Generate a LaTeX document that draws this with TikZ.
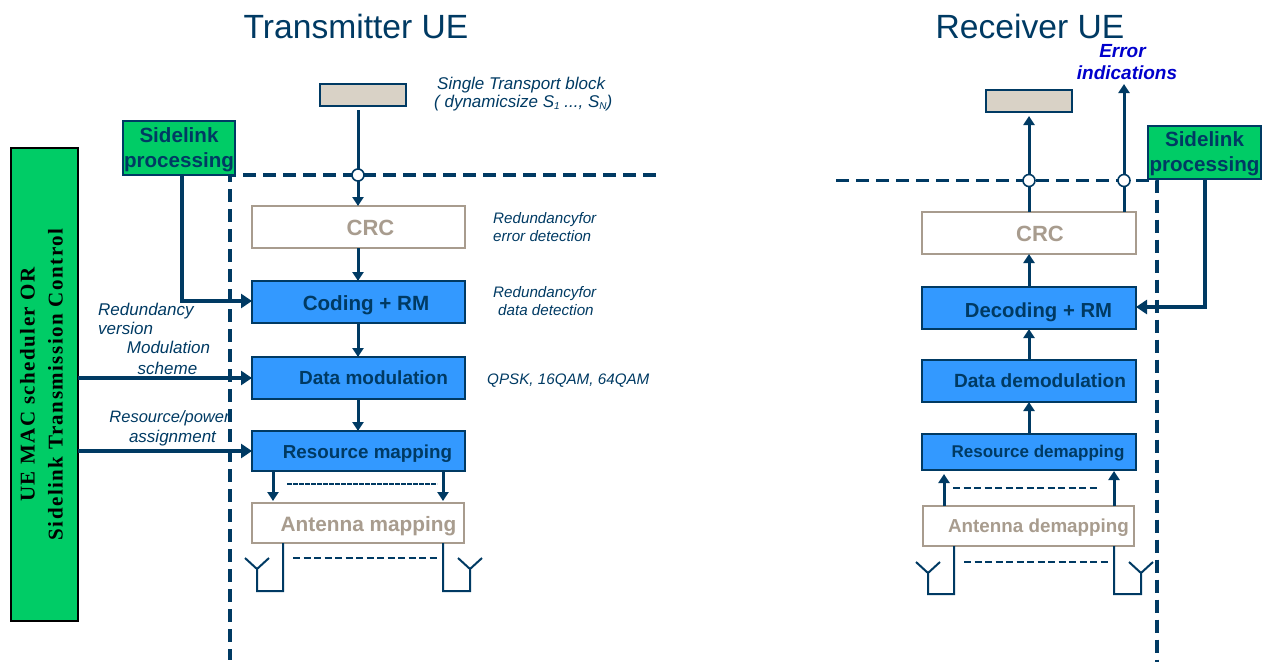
\documentclass[tikz,border=0pt]{standalone}
\usepackage{fontspec}
\setmainfont{Liberation Sans}
\newfontfamily\serifb[LetterSpace=7]{Liberation Serif}
\usetikzlibrary{arrows.meta,calc}
\definecolor{navy}{HTML}{003A63}
\definecolor{bluefill}{HTML}{3399FF}
\definecolor{greenfill}{HTML}{00CC66}
\definecolor{beige}{HTML}{D9D2C6}
\definecolor{greytxt}{HTML}{A89C8E}
\definecolor{errblue}{HTML}{0000CC}
\newcommand{\fsz}[1]{\fontsize{#1}{#1}\selectfont}
\newcommand{\bx}[3]{\hspace{#1pt}\raisebox{-#2pt}[\height][\depth]{#3}}
\tikzset{
  anybox/.style={draw,line width=1.8pt,inner sep=0pt,outer sep=0pt,align=center},
  bluebox/.style={anybox,draw=navy,fill=bluefill,text=navy,font=\fsz{20}\bfseries},
  greybox/.style={anybox,draw=greytxt,fill=white,text=greytxt,font=\fsz{21}\bfseries},
  tbbox/.style={anybox,draw=navy,fill=beige,minimum width=86pt,minimum height=22pt},
  sidebox/.style={anybox,draw=navy,fill=greenfill,text=navy,font=\fsz{20.6}\bfseries,minimum width=112pt,minimum height=54pt},
  note/.style={text=navy,font=\fsz{17}\itshape,align=left,inner sep=0pt},
  smallnote/.style={note,font=\fsz{15.2}\itshape},
  title/.style={text=navy,font=\fsz{33.6},inner sep=0pt},
  flow/.style={navy,line width=3pt,-{Triangle[length=9pt,width=11pt]}},
  flowthick/.style={navy,line width=4.4pt,-{Triangle[length=11pt,width=14pt]}},
  flowplain/.style={navy,line width=3pt},
  border/.style={navy,line width=3.6pt,dash pattern=on 13pt off 7pt},
  sparse/.style={navy,line width=2.2pt,dash pattern=on 7pt off 3.5pt},
  ant/.style={navy,line width=2pt},
  tap/.style={circle,draw=navy,fill=white,line width=1.6pt,minimum size=12pt,inner sep=0pt,outer sep=0pt}
}
\begin{document}
\begin{tikzpicture}[x=1pt,y=-1pt]
\useasboundingbox (0,0) rectangle (1262,662);
% titles
\node[title] (ttx) at (356,26.5) {Transmitter UE};
\node[title] (trx) at (1030,26.5) {Receiver UE};
% borders
\coordinate (txc) at (230,175);
\coordinate (txe) at (656,175);
\coordinate (txb) at (230,660);
\coordinate (rxa) at (836,180.5);
\coordinate (rxc) at (1157,180.5);
\coordinate (rxb) at (1157,662);
\draw[border] (txe) -- (txc) -- (txb);
\draw[border] (rxa) -- (rxc) -- (rxb);
% control block
\node[anybox,draw=black,fill=greenfill,text=black,rotate=90,minimum width=473pt,minimum height=67pt,
      font=\serifb\bfseries\fsz{21}] (mac) at (44.5,384.5)
  {\raisebox{3pt}{\begin{tabular}{@{}c@{}}UE MAC scheduler OR\\[7pt]Sidelink Transmission Control\end{tabular}}};
% transmitter
\node[tbbox] (ttb) at (363,95) {};
\node[tap] (ttap) at (358,175) {};
\node[sidebox] (tside) at (179,148) {\bx{0}{2}{Sidelink}\\[5pt]\bx{0}{1}{processing}};
\node[greybox,font=\fsz{22}\bfseries,minimum width=213pt,minimum height=42pt] (tcrc) at (358.5,227) {\bx{24}{1}{CRC}};
\node[bluebox,font=\fsz{20.6}\bfseries,minimum width=213pt,minimum height=42pt] (tcod) at (358.5,302) {\bx{15}{3}{Coding + RM}};
\node[bluebox,minimum width=213pt,minimum height=42pt,font=\fsz{19}\bfseries] (tmod) at (358.5,378) {\bx{30}{0}{Data modulation}};
\node[bluebox,minimum width=213pt,minimum height=40pt,font=\fsz{18.8}\bfseries] (tres) at (358.5,451) {\bx{18}{3}{Resource mapping}};
\node[greybox,font=\fsz{20.8}\bfseries,minimum width=212pt,minimum height=40pt] (tant) at (358,523) {\bx{21}{3}{Antenna mapping}};
% transmitter notes
\node[note,anchor=west] (n1) at (437,85.5) {Single Transport block};
\node[note,anchor=west] (n2) at (434,103) {( dynamicsize \textit{S}\raisebox{-2pt}{\fsz{10}1} ..., \textit{S}\raisebox{-2pt}{\fsz{10}N})};
\node[smallnote,anchor=west] (n3) at (493,219.5) {Redundancyfor};
\node[smallnote,anchor=west] (n4) at (493,236) {error detection};
\node[smallnote,anchor=west] (n5) at (493,293.5) {Redundancyfor};
\node[smallnote,anchor=west] (n6) at (498,310) {data detection};
\node[smallnote,anchor=west] (n7) at (487,381) {QPSK, 16QAM, 64QAM};
\node[note,anchor=west] (n8) at (98,311) {Redundancy};
\node[note,anchor=west] (n9) at (98,328) {version};
\node[note,anchor=center] (n10) at (168.5,347) {Modulation};
\node[note,anchor=center] (n11) at (167.5,368) {scheme};
\node[note,anchor=center,font=\fsz{16.5}\itshape] (n12) at (169.5,418) {Resource/power};
\node[note,anchor=center] (n13) at (172.5,438) {assignment};
% transmitter connectors
\coordinate (tsx) at (182,301);
\coordinate (ta1) at (273,490);
\coordinate (ta2) at (443,490);
\coordinate (tt) at (358,110);
\draw[flowplain] (tt) -- (ttap);
\draw[flow] (ttap) -- (tcrc.north -| ttap);
\draw[flow] (tcrc.south -| ttap) -- (tcod.north -| ttap);
\draw[flow] (tcod.south -| ttap) -- (tmod.north -| ttap);
\draw[flow] (tmod.south -| ttap) -- (tres.north -| ttap);
\draw[flow] (tres.south -| ta1) -- ($(tant.north -| ta1)+(0,-2)$);
\draw[flow] (tres.south -| ta2) -- ($(tant.north -| ta2)+(0,-2)$);
\draw[flowthick,rounded corners=0pt] (tside.south -| tsx) -- (tsx) -- (tsx -| tcod.west);
\draw[flowthick] (mac.south |- tmod.west) -- (tmod.west);
\draw[flowthick] (mac.south |- tres.west) -- (tres.west);
\coordinate (td1a) at (287,484);
\coordinate (td1b) at (437,484);
\coordinate (td2a) at (293,558);
\coordinate (td2b) at (438,558);
\draw[navy,line width=2pt,dash pattern=on 5pt off 1pt] (td1a) -- (td1b);
\draw[sparse] (td2a) -- (td2b);
% transmitter antennas
\coordinate (tl1) at (283,591);
\coordinate (tl2) at (257,591);
\coordinate (tl3) at (257,569);
\coordinate (tr1) at (443,591);
\coordinate (tr2) at (470,591);
\coordinate (tr3) at (470,569);
\draw[ant] (tant.south -| tl1) -- (tl1) -- (tl2) -- (tl3) -- ++(-12,-11) (tl3) -- ++(12,-11);
\draw[ant] (tant.south -| tr1) -- (tr1) -- (tr2) -- (tr3) -- ++(-12,-11) (tr3) -- ++(12,-11);
% receiver
\node[tbbox] (rtb) at (1029,101) {};
\node[tap] (rtap1) at (1029,180.5) {};
\node[tap] (rtap2) at (1124,180.5) {};
\node[sidebox,minimum width=113pt,minimum height=53pt] (rside) at (1204.5,152.5) {\bx{0}{2}{Sidelink}\\[5pt]\bx{0}{1}{processing}};
\node[greybox,font=\fsz{22}\bfseries,minimum width=214pt,minimum height=42pt] (rcrc) at (1029,233) {\bx{22}{1}{CRC}};
\node[bluebox,font=\fsz{20.3}\bfseries,minimum width=214pt,minimum height=42pt] (rdec) at (1029,308) {\bx{19}{4}{Decoding + RM}};
\node[bluebox,minimum width=214pt,minimum height=42pt,font=\fsz{19.1}\bfseries] (rmod) at (1029,381) {\bx{22}{0}{Data demodulation}};
\node[bluebox,minimum width=214pt,minimum height=36pt,font=\fsz{17}\bfseries] (rres) at (1029,452) {\bx{18}{1}{Resource demapping}};
\node[greybox,minimum width=211pt,minimum height=40pt,font=\fsz{18.8}\bfseries] (rant) at (1028.5,526) {\bx{20}{2}{Antenna demapping}};
\node[note,anchor=center,text=errblue,font=\fsz{19}\bfseries\itshape] (e1) at (1122.5,51) {Error};
\node[note,anchor=center,text=errblue,font=\fsz{19}\bfseries\itshape] (e2) at (1127,73) {indications};
% receiver connectors
\coordinate (rt1) at (1029,116);
\coordinate (rt2) at (1124,84);
\coordinate (rr1) at (944,474);
\coordinate (rr2) at (1114,471);
\coordinate (rsx) at (1205,307);
\draw[flowplain] (rcrc.north -| rtap1) -- (rtap1);
\draw[flow] (rtap1) -- (rt1);
\draw[flowplain] (rcrc.north -| rtap2) -- (rtap2);
\draw[flow] (rtap2) -- (rt2);
\draw[flow] (rdec.north -| rtap1) -- (rcrc.south -| rtap1);
\draw[flow] (rmod.north -| rtap1) -- (rdec.south -| rtap1);
\draw[flow] (rres.north -| rtap1) -- (rmod.south -| rtap1);
\draw[flow] (rant.north -| rr1) -- (rr1);
\draw[flow] (rant.north -| rr2) -- (rr2);
\draw[flowthick] (rside.south -| rsx) -- (rsx) -- (rsx -| rdec.east);
\coordinate (rd1a) at (953,488);
\coordinate (rd1b) at (1098,488);
\coordinate (rd2a) at (964,562);
\coordinate (rd2b) at (1109,562);
\draw[sparse] (rd1a) -- (rd1b);
\draw[sparse] (rd2a) -- (rd2b);
% receiver antennas
\coordinate (rl1) at (954,594);
\coordinate (rl2) at (928,594);
\coordinate (rl3) at (928,573);
\coordinate (rn1) at (1114,594);
\coordinate (rn2) at (1141,594);
\coordinate (rn3) at (1141,573);
\draw[ant] (rant.south -| rl1) -- (rl1) -- (rl2) -- (rl3) -- ++(-12,-11) (rl3) -- ++(12,-11);
\draw[ant] (rant.south -| rn1) -- (rn1) -- (rn2) -- (rn3) -- ++(-12,-11) (rn3) -- ++(12,-11);
\end{tikzpicture}
\end{document}
